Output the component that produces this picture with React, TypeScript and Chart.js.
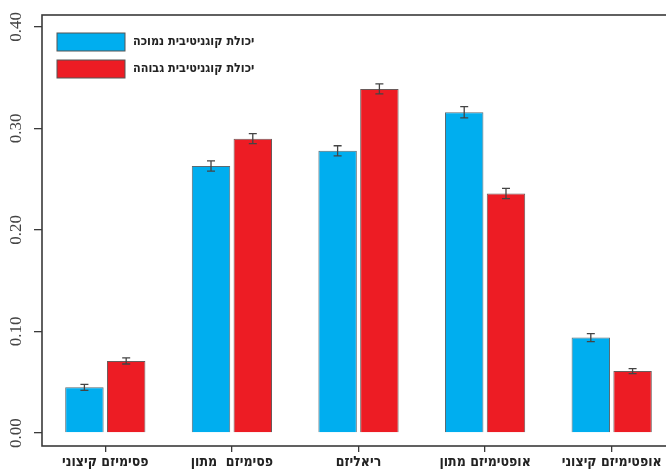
import React, { useEffect, useRef } from "react";
import { Chart, registerables } from "chart.js";

Chart.register(...registerables);

const categories = ["פסימיזם קיצוני", "פסימיזם  מתון", "ריאליזם", "אופטימיזם מתון", "אופטימיזם קיצוני"];
const seriesNames = ["יכולת קוגניטיבית נמוכה", "יכולת קוגניטיבית גבוהה"];
const lowValues = [0.045, 0.263, 0.278, 0.316, 0.094];
const highValues = [0.071, 0.290, 0.339, 0.236, 0.061];
const lowErrors = [0.003, 0.005, 0.005, 0.0055, 0.004];
const highErrors = [0.003, 0.005, 0.005, 0.005, 0.0025];
const yTicks = [0.0, 0.1, 0.2, 0.3, 0.4];
const yTickLabels = ["0.00", "0.10", "0.20", "0.30", "0.40"];

const BLUE = "#00AEEF";
const RED = "#ED1C24";
const AXIS = "#3a3a3a";
const HEB_FONT = "'DejaVu Sans Condensed', 'DejaVu Sans', 'Liberation Sans', sans-serif";

const boxPlugin = {
  id: "boxPlugin",
  afterDraw(chart: any) {
    const { ctx, chartArea } = chart;
    ctx.save();
    ctx.strokeStyle = AXIS;
    ctx.lineWidth = 1.6;
    ctx.strokeRect(chartArea.left, chartArea.top, chartArea.right - chartArea.left + 20, chartArea.bottom - chartArea.top);
    ctx.restore();
  },
};

const errorBarPlugin = {
  id: "errorBars",
  afterDatasetsDraw(chart: any) {
    const { ctx } = chart;
    const yScale = chart.scales.y;
    ctx.save();
    ctx.strokeStyle = "#444";
    ctx.lineWidth = 1.3;
    chart.data.datasets.forEach((ds: any, di: number) => {
      const meta = chart.getDatasetMeta(di);
      meta.data.forEach((bar: any, i: number) => {
        const v = ds.data[i];
        const e = ds.errors[i];
        const x = bar.x;
        const yTop = yScale.getPixelForValue(v + e);
        const yBot = yScale.getPixelForValue(v - e);
        ctx.beginPath();
        ctx.moveTo(x, yTop);
        ctx.lineTo(x, yBot);
        ctx.moveTo(x - 4, yTop);
        ctx.lineTo(x + 4, yTop);
        ctx.moveTo(x - 4, yBot);
        ctx.lineTo(x + 4, yBot);
        ctx.stroke();
      });
    });
    ctx.restore();
  },
};

const yLabelPlugin = {
  id: "yLabels",
  afterDraw(chart: any) {
    const { ctx } = chart;
    const yScale = chart.scales.y;
    ctx.save();
    ctx.fillStyle = "#444";
    ctx.font = "17px 'Liberation Serif', 'DejaVu Serif', serif";
    ctx.textAlign = "center";
    ctx.textBaseline = "middle";
    yTicks.forEach((v, i) => {
      const y = yScale.getPixelForValue(v);
      ctx.save();
      ctx.translate(17, y);
      ctx.rotate(-Math.PI / 2);
      ctx.fillText(yTickLabels[i], 0, 0);
      ctx.restore();
    });
    ctx.restore();
  },
};

const legendPlugin = {
  id: "customLegend",
  afterDraw(chart: any) {
    const { ctx, chartArea } = chart;
    ctx.save();
    chart.data.datasets.forEach((ds: any, i: number) => {
      const x = chartArea.left + 15;
      const y = chartArea.top + 18 + i * 27;
      ctx.fillStyle = ds.backgroundColor;
      ctx.fillRect(x, y, 68, 18);
      ctx.strokeStyle = "#555";
      ctx.lineWidth = 1;
      ctx.strokeRect(x, y, 68, 18);
      ctx.fillStyle = "#222";
      ctx.font = "bold 12.5px " + HEB_FONT;
      ctx.textAlign = "left";
      ctx.textBaseline = "middle";
      ctx.fillText(ds.label, x + 76, y + 9);
    });
    ctx.restore();
  },
};

export default function App() {
  const canvasRef = useRef<HTMLCanvasElement | null>(null);

  useEffect(() => {
    const prevMargin = document.body.style.margin;
    document.body.style.margin = "0";
    document.body.style.overflow = "hidden";
    const canvas = canvasRef.current;
    if (!canvas) return;
    const chart = new Chart(canvas, {
      type: "bar",
      data: {
        labels: categories,
        datasets: [
          {
            label: seriesNames[0],
            data: lowValues,
            errors: lowErrors,
            backgroundColor: BLUE,
            borderColor: "#5a6a72",
            borderWidth: 1,
          } as any,
          {
            label: seriesNames[1],
            data: highValues,
            errors: highErrors,
            backgroundColor: RED,
            borderColor: "#6a5a5a",
            borderWidth: 1,
          } as any,
        ],
      },
      options: {
        animation: false,
        responsive: false,
        maintainAspectRatio: false,
        devicePixelRatio: 1,
        layout: { padding: { top: 15, left: 0, right: 0, bottom: 0 } },
        datasets: {
          bar: { categoryPercentage: 0.66, barPercentage: 0.92 },
        },
        plugins: {
          legend: { display: false },
          tooltip: { enabled: false },
        },
        scales: {
          x: {
            grid: {
              display: true,
              offset: false,
              drawOnChartArea: false,
              drawTicks: true,
              tickLength: 6,
              color: AXIS,
              lineWidth: 1.3,
            },
            border: { display: false },
            ticks: {
              color: "#222",
              padding: 2,
              maxRotation: 0,
              minRotation: 0,
              autoSkip: false,
              font: { family: HEB_FONT, size: 14, weight: "bold" },
            },
            afterFit: (scale: any) => {
              scale.height = 25;
            },
          },
          y: {
            min: -0.0128,
            max: 0.4118,
            grid: {
              display: true,
              drawOnChartArea: false,
              drawTicks: true,
              tickLength: 8,
              color: AXIS,
              lineWidth: 1.3,
            },
            border: { display: false },
            ticks: { display: false },
            afterBuildTicks: (scale: any) => {
              scale.ticks = yTicks.map((v) => ({ value: v }));
            },
            afterFit: (scale: any) => {
              scale.width = 42;
            },
          },
        },
      },
      plugins: [errorBarPlugin, boxPlugin, yLabelPlugin, legendPlugin],
    });
    return () => {
      chart.destroy();
      document.body.style.margin = prevMargin;
    };
  }, []);

  return (
    <div style={{ position: "fixed", left: 0, top: 0, width: 666, height: 471, overflow: "hidden", background: "#fff" }}>
      <canvas ref={canvasRef} width={675} height={471} style={{ display: "block", width: 675, height: 471 }} />
    </div>
  );
}
